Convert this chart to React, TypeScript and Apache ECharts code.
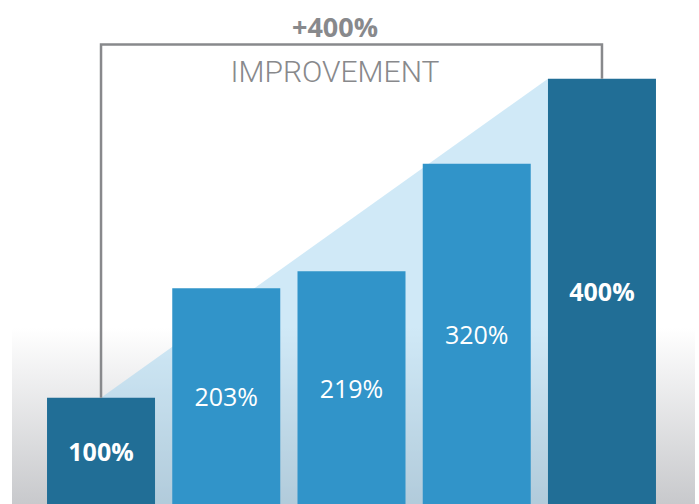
import React, { useEffect, useRef } from "react";
import * as echarts from "echarts";

const categories = ["A", "B", "C", "D", "E"];
const values = [100, 203, 219, 320, 400];
const labels = ["100%", "203%", "219%", "320%", "400%"];
const highlight = [true, false, false, false, true];
const headline = "+400%";
const subtitle = "IMPROVEMENT";

const DARK = "#216e96";
const MID = "#3194c9";
const GREY = "#88898c";
const BAR_W = 108;

export default function App() {
  const ref = useRef<HTMLDivElement>(null);
  useEffect(() => {
    document.body.style.margin = "0";
    const chart = echarts.init(ref.current!, null, { renderer: "svg" });
    const last = values.length - 1;
    chart.setOption({
      animation: false,
      backgroundColor: "#ffffff",
      grid: { left: 38.4, width: 626.2, top: 25.5, height: 481.5, containLabel: false },
      xAxis: {
        type: "category",
        data: categories,
        show: false,
      },
      yAxis: { type: "value", min: 0, max: 450, show: false },
      graphic: [
        {
          type: "rect",
          z: -10,
          silent: true,
          shape: { x: 12, y: 328, width: 683, height: 176 },
          style: {
            fill: new echarts.graphic.LinearGradient(0, 0, 0, 1, [
              { offset: 0, color: "#ffffff" },
              { offset: 1, color: "#c8c9cc" },
            ]),
          },
        },
        {
          type: "text",
          z: 50,
          x: 335,
          y: 26,
          style: {
            text: headline,
            fill: GREY,
            font: "bold 27px 'Open Sans', sans-serif",
            textAlign: "center",
            textVerticalAlign: "middle",
          },
        },
        {
          type: "text",
          z: 50,
          x: 335,
          y: 71,
          style: {
            text: subtitle,
            fill: GREY,
            font: "300 30px Roboto, sans-serif",
            textAlign: "center",
            textVerticalAlign: "middle",
          },
        },
      ],
      series: [
        {
          type: "custom",
          z: 1,
          silent: true,
          clip: false,
          data: [[0, 0]],
          renderItem: (params: any, api: any) => {
            const p0 = api.coord([0, values[0]]);
            const p1 = api.coord([last, values[last]]);
            const base = api.coord([0, 0])[1];
            const xr = p1[0] - BAR_W / 2;
            return {
              type: "polygon",
              shape: {
                points: [
                  [p0[0], p0[1]],
                  [xr, p1[1]],
                  [xr, base],
                  [p0[0], base],
                ],
              },
              style: { fill: "rgba(151,207,238,0.45)" },
            };
          },
        },
        {
          type: "bar",
          z: 2,
          barWidth: BAR_W,
          data: values.map((v, i) => ({
            value: v,
            itemStyle: { color: highlight[i] ? DARK : MID },
            label: {
              show: true,
              position: "inside",
              formatter: labels[i],
              color: "#ffffff",
              fontFamily: "'Open Sans', sans-serif",
              fontSize: 25,
              fontWeight: highlight[i] ? "bold" : "normal",
            },
          })),
        },
        {
          type: "custom",
          z: 3,
          silent: true,
          clip: false,
          data: [[0, 0]],
          renderItem: (params: any, api: any) => {
            const p0 = api.coord([0, values[0]]);
            const p1 = api.coord([last, values[last]]);
            return {
              type: "polyline",
              shape: {
                points: [
                  [p0[0], p0[1]],
                  [p0[0], 44.5],
                  [p1[0], 44.5],
                  [p1[0], p1[1]],
                ],
              },
              style: { stroke: GREY, lineWidth: 2.5, fill: "none" },
            };
          },
        },
      ],
    });
    return () => chart.dispose();
  }, []);
  return <div ref={ref} style={{ width: 699, height: 504 }} />;
}
